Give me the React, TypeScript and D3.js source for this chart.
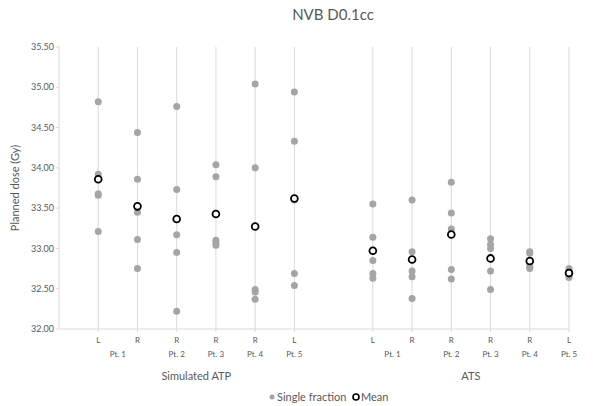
import * as d3 from 'd3';

// x slot of each L/R column (slot 7 is the empty gap between the two groups)
const slots = [1, 2, 3, 4, 5, 6, 8, 9, 10, 11, 12, 13];
const sideLabels = ['L', 'R', 'R', 'R', 'R', 'L', 'L', 'R', 'R', 'R', 'R', 'L'];

const patientLabels = [
    { label: 'Pt. 1', at: 1.5 },
    { label: 'Pt. 2', at: 3 },
    { label: 'Pt. 3', at: 4 },
    { label: 'Pt. 4', at: 5 },
    { label: 'Pt. 5', at: 6 },
    { label: 'Pt. 1', at: 8.5 },
    { label: 'Pt. 2', at: 10 },
    { label: 'Pt. 3', at: 11 },
    { label: 'Pt. 4', at: 12 },
    { label: 'Pt. 5', at: 13 },
];

const groupLabels = [
    { label: 'Simulated ATP', at: 3.5 },
    { label: 'ATS', at: 10.5 },
];

// single-fraction doses per column (Gy)
const fractions: number[][] = [
    [34.82, 33.92, 33.68, 33.66, 33.21],
    [34.44, 33.86, 33.45, 33.11, 32.75],
    [34.76, 33.73, 33.17, 32.95, 32.22],
    [34.04, 33.89, 33.10, 33.07, 33.04],
    [35.04, 34.00, 32.49, 32.46, 32.37],
    [34.94, 34.33, 33.60, 32.69, 32.54],
    [33.55, 33.14, 32.85, 32.69, 32.63],
    [33.60, 32.96, 32.72, 32.65, 32.38],
    [33.82, 33.44, 33.24, 32.74, 32.62],
    [33.12, 33.05, 33.00, 32.72, 32.49],
    [32.96, 32.94, 32.80, 32.77, 32.75],
    [32.75, 32.73, 32.69, 32.66, 32.64],
];

const yTicks = [32.0, 32.5, 33.0, 33.5, 34.0, 34.5, 35.0, 35.5];

const W = 602;
const H = 406;
const font = 'Lato, "Open Sans", sans-serif';
const textColor = '#595959';
const lineColor = '#d9d9d9';
const dotColor = '#a5a5a5';

export default function App() {
    const x = d3.scaleLinear().domain([0, 13]).range([59, 569]);
    const y = d3.scaleLinear().domain([32, 35.5]).range([329, 47]);

    const means = fractions.map(f => d3.mean(f) as number);

    return (
        <svg
            width={W}
            height={H}
            style={{ position: 'absolute', left: 0, top: 0, background: '#fff' }}
            fontFamily={font}
        >
            {/* title */}
            <text x={333} y={20} textAnchor="middle" fontSize={15} fill={textColor}>
                NVB D0.1cc
            </text>

            {/* vertical column lines */}
            {slots.map((s, i) => (
                <line key={'v' + i} x1={x(s)} x2={x(s)} y1={y(35.5)} y2={y(32) + 3}
                    stroke={lineColor} strokeWidth={1} />
            ))}

            {/* y axis */}
            <line x1={x(0)} x2={x(0)} y1={y(35.5)} y2={y(32)} stroke={lineColor} />
            {yTicks.map(t => (
                <g key={'y' + t}>
                    <line x1={x(0) - 3} x2={x(0)} y1={y(t)} y2={y(t)} stroke={lineColor} />
                    <text x={x(0) - 5} y={y(t)} dy="0.35em" textAnchor="end" fontSize={9} fill={textColor}>
                        {d3.format('.2f')(t)}
                    </text>
                </g>
            ))}
            <text
                transform={`translate(19, ${(y(32) + y(35.5)) / 2}) rotate(-90)`}
                textAnchor="middle" fontSize={11} fill={textColor}
            >
                Planned dose (Gy)
            </text>

            {/* x axis */}
            <line x1={x(0)} x2={x(13)} y1={y(32)} y2={y(32)} stroke={lineColor} />
            {slots.map((s, i) => (
                <text key={'s' + i} x={x(s)} y={343} textAnchor="middle" fontSize={8} fill={textColor}>
                    {sideLabels[i]}
                </text>
            ))}
            {patientLabels.map((p, i) => (
                <text key={'p' + i} x={x(p.at)} y={357} textAnchor="middle" fontSize={8} fill={textColor}>
                    {p.label}
                </text>
            ))}
            {groupLabels.map(g => (
                <text key={g.label} x={x(g.at)} y={380} textAnchor="middle" fontSize={11} fill={textColor}>
                    {g.label}
                </text>
            ))}

            {/* single fractions */}
            {fractions.map((f, i) =>
                f.map((v, j) => (
                    <circle key={`f${i}-${j}`} cx={x(slots[i])} cy={y(v)} r={3.5} fill={dotColor} />
                ))
            )}

            {/* means */}
            {means.map((m, i) => (
                <circle key={'m' + i} cx={x(slots[i])} cy={y(m)} r={3.4}
                    fill="#fff" stroke="#000" strokeWidth={1.8} />
            ))}

            {/* legend */}
            <circle cx={272} cy={397} r={2.5} fill={dotColor} />
            <text x={277} y={397} dy="0.35em" fontSize={11} fill={textColor}>Single fraction</text>
            <circle cx={356} cy={397} r={3} fill="#fff" stroke="#000" strokeWidth={1.6} />
            <text x={361} y={397} dy="0.35em" fontSize={11} fill={textColor}>Mean</text>
        </svg>
    );
}
